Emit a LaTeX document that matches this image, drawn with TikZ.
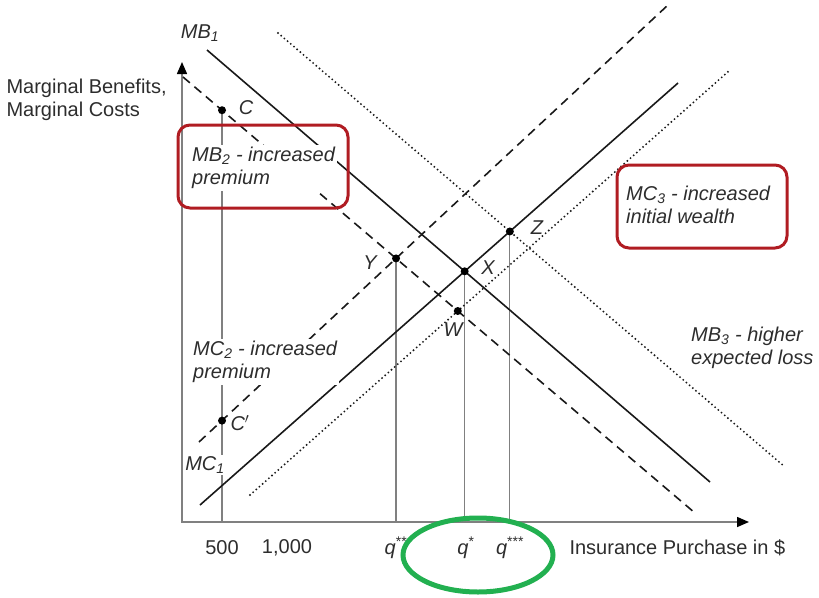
\documentclass[tikz,border=0pt]{standalone}
\usepackage{fontspec}
\setmainfont{Liberation Sans}
\usetikzlibrary{arrows.meta,positioning,calc}
\definecolor{boxred}{RGB}{176,28,34}
\definecolor{ringgreen}{RGB}{34,176,80}
\definecolor{axisgray}{RGB}{128,128,128}
\definecolor{inkgray}{RGB}{45,45,45}
\tikzset{
  axis/.style={draw=axisgray,line width=1.5pt,{Triangle[length=12pt,width=10pt,fill=black,color=black]}-{Triangle[length=12pt,width=10pt,fill=black,color=black]}},
  guide/.style={draw=axisgray,line width=1.1pt},
  curve/.style={draw=black!90,line width=1.6pt},
  shifted/.style={curve,dash pattern=on 9pt off 6pt},
  dotline/.style={draw=black!90,line width=2.1pt,line cap=round,dash pattern=on 0pt off 4.2pt},
  dot/.style={circle,fill=black,inner sep=0pt,minimum size=8pt},
  lbl/.style={text=inkgray,inner sep=1pt,font=\fontsize{20}{23}\selectfont\itshape},
  note/.style={lbl,align=left,anchor=west,fill=white,inner sep=2pt},
  redbox/.style={draw=boxred,line width=3pt,rounded corners=12pt},
  ring/.style={draw=ringgreen,line width=5pt}
}
\begin{document}
\begin{tikzpicture}[x=1pt,y=-1pt,font=\fontsize{20}{23}\selectfont]
  \useasboundingbox (0,0) rectangle (819,597);

  % Axes
  \coordinate (O) at (182,522);
  \coordinate (ytop) at (182,62);
  \coordinate (xend) at (749,522);
  \draw[axis] (ytop) |- (xend);

  % Curve end points
  \coordinate (mb1a) at (207,50);  \coordinate (mb1b) at (710,482);
  \coordinate (mc1a) at (200,505); \coordinate (mc1b) at (678,83);
  \coordinate (mb2a) at (183,77);  \coordinate (mb2b) at (695,513);
  \coordinate (mc2a) at (199,442); \coordinate (mc2b) at (668,5);
  \coordinate (mb3a) at (278,33);  \coordinate (mb3b) at (785,467);
  \coordinate (mc3a) at (250,495); \coordinate (mc3b) at (730,70);

  % Points where the curves meet
  \coordinate (pX) at (intersection of mb1a--mb1b and mc1a--mc1b);
  \coordinate (pY) at (intersection of mb2a--mb2b and mc2a--mc2b);
  \coordinate (pZ) at (intersection of mb3a--mb3b and mc1a--mc1b);
  \coordinate (pW) at (intersection of mb2a--mb2b and mc3a--mc3b);
  \coordinate (pC) at (intersection of mb2a--mb2b and 222,0--222,600);
  \coordinate (pCp) at (intersection of mc2a--mc2b and 222,0--222,600);

  % Guides down to the axis
  \draw[guide] (pC) -- (pC |- O);
  \draw[guide] (pY) -- (pY |- O);
  \draw[guide] (pX) -- (pX |- O);
  \draw[guide] (pZ) -- (pZ |- O);

  % Benefit and cost curves
  \draw[curve] (mb1a) -- (mb1b);
  \draw[curve] (mc1a) -- (mc1b);
  \draw[shifted] (mb2a) -- (mb2b);
  \draw[shifted] (mc2a) -- (mc2b);
  \draw[dotline] (mb3a) -- (mb3b);
  \draw[dotline] (mc3a) -- (mc3b);

  % Curve labels
  \node[lbl] (mb1) at (200,33) {MB\textsubscript{1}};
  \node[note] (mb2) at (190,168) {MB\textsubscript{2} - increased\\premium};
  \node[note] (mc2) at (191,362) {MC\textsubscript{2} - increased\\premium};
  \node[lbl,fill=white] (mc1) at (205,465) {MC\textsubscript{1}};
  \node[note,fill=none] (mc3) at (624,205) {MC\textsubscript{3} - increased\\initial wealth};
  \node[note,fill=none] (mb3) at (689,348) {MB\textsubscript{3} - higher\\expected loss};

  % Highlight boxes
  \draw[redbox] (178,125) rectangle (348,208);
  \draw[redbox] (617,165) rectangle (787,248);

  % Points
  \node[dot] (C) at (pC) {};
  \node[dot] (Cp) at (pCp) {};
  \node[dot] (X) at (pX) {};
  \node[dot] (Y) at (pY) {};
  \node[dot] (Z) at (pZ) {};
  \node[dot] (W) at (pW) {};
  \node[lbl] (Clbl) at (246,108) {C};
  \node[lbl] (Cplbl) at (240,423) {C$'$};
  \node[lbl] (Ylbl) at (370,263) {Y};
  \node[lbl] (Xlbl) at (488,268) {X};
  \node[lbl] (Zlbl) at (537,228) {Z};
  \node[lbl] (Wlbl) at (453,330) {W};

  % Axis texts
  \node[text=inkgray,align=left,anchor=west] (ytitle) at (3,100) {Marginal Benefits,\\Marginal Costs};
  \node[text=inkgray] (t500) at (222,548) {500};
  \node[text=inkgray] (t1000) at (287,548) {1,000};
  \node[text=inkgray] (q2) at (396,548) {\textit{q}\textsuperscript{**}};
  \node[text=inkgray] (q1) at (466,548) {\textit{q}\textsuperscript{*}};
  \node[text=inkgray] (q3) at (510,548) {\textit{q}\textsuperscript{***}};
  \node[text=inkgray,anchor=west] (xtitle) at (566,548) {Insurance Purchase in \$};

  % Green ring
  \draw[ring] (478,555) ellipse [x radius=75, y radius=37];
\end{tikzpicture}
\end{document}
